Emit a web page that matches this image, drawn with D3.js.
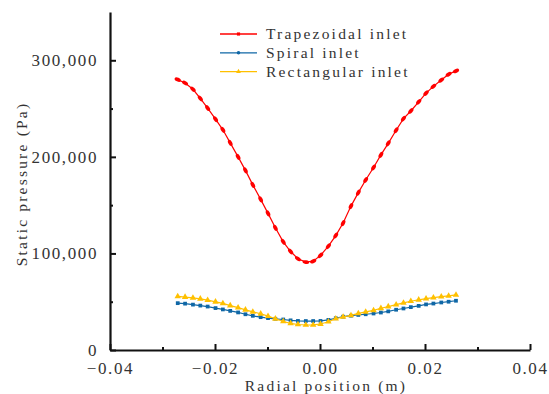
<!DOCTYPE html>
<html>
<head>
<meta charset="utf-8">
<script src="https://cdn.jsdelivr.net/npm/d3@7"></script>
<style>
  body { margin: 0; background: #fff; }
  text { font-family: "Liberation Serif", "DejaVu Serif", serif; fill: #333; }
</style>
</head>
<body>
<div id="chart"></div>
<script>
// radial positions (m), shared by all three series
const radial = [-0.0271, -0.0257, -0.0242, -0.0228, -0.0214, -0.0199, -0.0185, -0.0171, -0.0156, -0.0142,
  -0.0128, -0.0113, -0.0099, -0.0085, -0.0070, -0.0056, -0.0042, -0.0027, -0.0013, 0.0001,
  0.0016, 0.0030, 0.0044, 0.0059, 0.0073, 0.0087, 0.0102, 0.0116, 0.0130, 0.0145,
  0.0159, 0.0173, 0.0188, 0.0202, 0.0216, 0.0231, 0.0245, 0.0259];

// static pressure (Pa)
const trapezoidal = [280000, 276500, 270000, 260500, 250500, 239000, 228000, 214500, 200000, 186000,
  171000, 156000, 141500, 126500, 112000, 102000, 94500, 91000, 92000, 98000,
  107500, 118500, 131500, 149000, 163000, 176000, 189000, 202000, 214000, 227500,
  239500, 247500, 257000, 266000, 273000, 279500, 285500, 289000];
const spiral = [48500, 48000, 47000, 46000, 45000, 43400, 42000, 40500, 38900, 37000,
  35400, 34000, 33000, 32300, 31600, 30700, 30100, 30000, 30000, 30100,
  31200, 32900, 34500, 35500, 36300, 37000, 37800, 38800, 40000, 41700,
  43000, 44400, 45700, 47200, 48100, 49200, 50000, 51000];
const rectangular = [55500, 54800, 53900, 53000, 51600, 49900, 48200, 46000, 43800, 41600,
  39400, 37500, 35100, 32300, 29500, 27600, 26400, 25900, 26000, 26900,
  29300, 32400, 34200, 35800, 37900, 39400, 41000, 43200, 45000, 47000,
  48800, 50500, 52000, 53200, 54200, 55200, 56000, 57000];

const seriesNames = ['Trapezoidal inlet', 'Spiral inlet', 'Rectangular inlet'];
const seriesColors = ['#ff0000', '#0f67a6', '#ffc000'];
const seriesValues = [trapezoidal, spiral, rectangular];

const xTicks = [-0.04, -0.02, 0, 0.02, 0.04];
const xMinor = [-0.03, -0.01, 0.01, 0.03];
const yTicks = [0, 100000, 200000, 300000];
const yMinor = [50000, 150000, 250000];

const width = 549, height = 394;
const margin = { top: 12, right: 19, bottom: 44, left: 110 };

const svg = d3.select('#chart')
  .append('svg')
  .attr('width', width)
  .attr('height', height);

const x = d3.scaleLinear()
  .domain([-0.04, 0.04])
  .range([margin.left, width - margin.right]);

const y = d3.scaleLinear()
  .domain([0, 350000])
  .range([height - margin.bottom, margin.top]);

// minor ticks
svg.append('g')
  .attr('transform', `translate(0,${height - margin.bottom})`)
  .call(d3.axisBottom(x).tickValues(xMinor).tickSize(-3).tickFormat(''))
  .call(g => g.select('.domain').remove())
  .call(g => g.selectAll('.tick line').attr('stroke', '#111').attr('stroke-width', 2));

svg.append('g')
  .attr('transform', `translate(${margin.left},0)`)
  .call(d3.axisLeft(y).tickValues(yMinor).tickSize(-3).tickFormat(''))
  .call(g => g.select('.domain').remove())
  .call(g => g.selectAll('.tick line').attr('stroke', '#111').attr('stroke-width', 2));

// x axis
svg.append('g')
  .attr('class', 'x-axis')
  .attr('transform', `translate(0,${height - margin.bottom})`)
  .call(d3.axisBottom(x).tickValues(xTicks).tickSizeInner(-6).tickSizeOuter(0).tickPadding(12).tickFormat(d3.format('.2f')))
  .call(g => g.select('.domain').attr('stroke', '#111').attr('stroke-width', 2.2))
  .call(g => g.selectAll('.tick line').attr('stroke', '#111').attr('stroke-width', 2))
  .call(g => g.selectAll('.tick text').attr('font-size', 17).attr('letter-spacing', 1.6).attr('fill', '#333'));

// y axis
svg.append('g')
  .attr('class', 'y-axis')
  .attr('transform', `translate(${margin.left},0)`)
  .call(d3.axisLeft(y).tickValues(yTicks).tickSizeInner(-6).tickSizeOuter(0).tickPadding(12).tickFormat(d3.format(',')))
  .call(g => g.select('.domain').attr('stroke', '#111').attr('stroke-width', 2.2))
  .call(g => g.selectAll('.tick line').attr('stroke', '#111').attr('stroke-width', 2))
  .call(g => g.selectAll('.tick text').attr('font-size', 17).attr('letter-spacing', 1.6).attr('fill', '#333'));

// axis titles
svg.append('text')
  .attr('x', 326)
  .attr('y', height - 3)
  .attr('text-anchor', 'middle')
  .attr('font-size', 15.5)
  .attr('letter-spacing', 2.2)
  .text('Radial position (m)');

svg.append('text')
  .attr('transform', `translate(27,${184}) rotate(-90)`)
  .attr('text-anchor', 'middle')
  .attr('font-size', 15.5)
  .attr('letter-spacing', 2.2)
  .text('Static pressure (Pa)');

// series
const line = d3.line()
  .x((d, i) => x(radial[i]))
  .y(d => y(d));

// local direction of a curve at point i, in screen space
const angleAt = (vals, i) => {
  const a = Math.max(0, i - 1), b = Math.min(vals.length - 1, i + 1);
  return Math.atan2(y(vals[b]) - y(vals[a]), x(radial[b]) - x(radial[a])) * 180 / Math.PI;
};

seriesValues.forEach((vals, k) => {
  const g = svg.append('g').attr('class', 'series');
  g.append('path')
    .datum(vals)
    .attr('d', line)
    .attr('fill', 'none')
    .attr('stroke', seriesColors[k])
    .attr('stroke-width', 1.2);

  if (k === 0) {
    // elongated blobs along the red curve
    g.selectAll('ellipse')
      .data(vals)
      .enter()
      .append('ellipse')
      .attr('transform', (d, i) => `translate(${x(radial[i])},${y(d)}) rotate(${angleAt(vals, i)})`)
      .attr('rx', 3.3)
      .attr('ry', 1.9)
      .attr('fill', seriesColors[k]);
  } else {
    g.selectAll('path.pt')
      .data(vals)
      .enter()
      .append('path')
      .attr('class', 'pt')
      .attr('transform', (d, i) => `translate(${x(radial[i])},${y(d)})`)
      .attr('d', d3.symbol().type(k === 1 ? d3.symbolSquare : d3.symbolTriangle).size(k === 1 ? 14 : 18))
      .attr('fill', seriesColors[k]);
  }
});

// legend
const legendShapes = [d3.symbolSquare, d3.symbolCircle, d3.symbolTriangle];
const legend = svg.append('g').attr('transform', 'translate(220,34)');
seriesNames.forEach((name, k) => {
  const row = legend.append('g').attr('transform', `translate(0,${k * 18.8})`);
  row.append('line')
    .attr('x1', 0).attr('x2', 37)
    .attr('stroke', seriesColors[k])
    .attr('stroke-width', 1.3);
  row.append('path')
    .attr('transform', 'translate(18.5,0)')
    .attr('d', d3.symbol().type(legendShapes[k]).size(10))
    .attr('fill', seriesColors[k]);
  row.append('text')
    .attr('x', 46)
    .attr('y', 5)
    .attr('font-size', 15.5)
    .attr('letter-spacing', 2.2)
    .text(name);
});
</script>
</body>
</html>
